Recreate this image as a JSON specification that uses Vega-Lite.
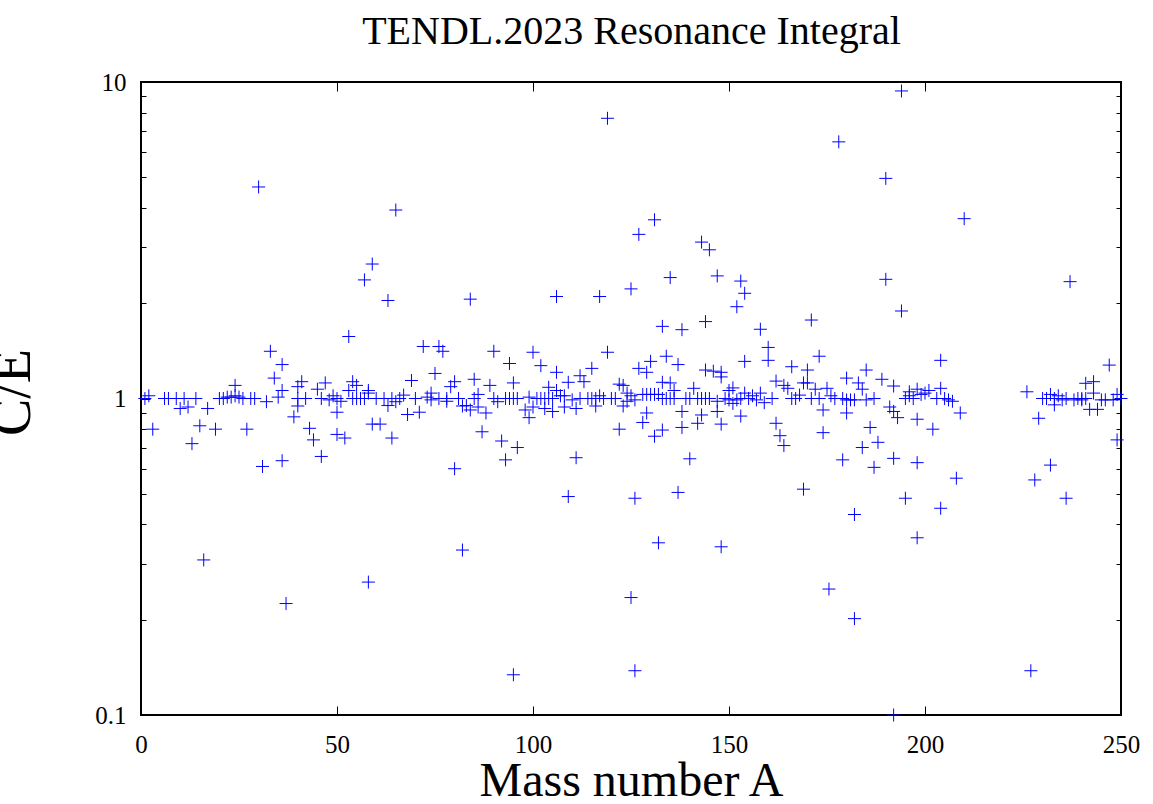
{
  "$schema": "https://vega.github.io/schema/vega-lite/v6.json",
  "width": 980,
  "height": 633,
  "autosize": {"type": "none"},
  "padding": {"left": 141, "top": 82, "right": 32, "bottom": 89},
  "background": "white",
  "config": {
    "view": {"stroke": "black", "strokeWidth": 2},
    "axis": {"domain": false, "grid": false, "labelFont": "Liberation Serif", "labelFontSize": 25, "labelColor": "black", "tickColor": "black", "tickWidth": 1, "titleFont": "Liberation Serif", "titleFontWeight": "normal", "titleColor": "black"}
  },
  "data": {"values": [
{"A":1,"CE":1.0},{"A":2,"CE":1.02},{"A":3,"CE":0.8},{"A":6,"CE":1.0},{"A":7,"CE":1.0},{"A":9,"CE":1.0},{"A":10,"CE":0.93},{"A":11,"CE":1.0},{"A":12,"CE":0.94},{"A":13,"CE":0.72},{"A":14,"CE":1.0},{"A":15,"CE":0.82},{"A":16,"CE":0.309},{"A":17,"CE":0.93},{"A":19,"CE":0.8},{"A":20,"CE":1.0},{"A":21,"CE":1.0},{"A":22,"CE":1.01},{"A":23,"CE":1.01},{"A":24,"CE":1.1},{"A":24,"CE":1.02},{"A":25,"CE":1.01},{"A":26,"CE":1.0},{"A":27,"CE":0.8},{"A":28,"CE":1.0},{"A":29,"CE":1.0},{"A":30,"CE":4.66},{"A":31,"CE":0.61},{"A":32,"CE":0.977},{"A":33,"CE":1.41},{"A":34,"CE":1.16},{"A":35,"CE":1.01},{"A":36,"CE":1.28},{"A":36,"CE":1.06},{"A":36,"CE":0.636},{"A":37,"CE":0.225},{"A":39,"CE":0.875},{"A":40,"CE":1.09},{"A":40,"CE":1.0},{"A":40,"CE":0.947},{"A":41,"CE":1.13},{"A":42,"CE":1.0},{"A":43,"CE":0.805},{"A":44,"CE":0.74},{"A":45,"CE":1.07},{"A":46,"CE":0.656},{"A":46,"CE":1.0},{"A":47,"CE":1.12},{"A":48,"CE":0.99},{"A":49,"CE":1.02},{"A":50,"CE":1.0},{"A":50,"CE":0.905},{"A":50,"CE":0.77},{"A":51,"CE":0.98},{"A":52,"CE":0.75},{"A":53,"CE":1.57},{"A":53,"CE":1.06},{"A":54,"CE":1.13},{"A":54,"CE":1.0},{"A":55,"CE":1.1},{"A":55,"CE":1.0},{"A":56,"CE":1.0},{"A":57,"CE":2.37},{"A":57,"CE":1.0},{"A":58,"CE":1.04},{"A":58,"CE":1.06},{"A":58,"CE":0.263},{"A":59,"CE":2.66},{"A":59,"CE":0.83},{"A":60,"CE":1.0},{"A":61,"CE":0.83},{"A":62,"CE":1.0},{"A":63,"CE":2.04},{"A":63,"CE":0.95},{"A":64,"CE":1.0},{"A":64,"CE":0.75},{"A":65,"CE":3.94},{"A":65,"CE":0.977},{"A":66,"CE":1.0},{"A":67,"CE":1.025},{"A":68,"CE":0.89},{"A":69,"CE":1.14},{"A":70,"CE":1.0},{"A":71,"CE":0.905},{"A":72,"CE":1.46},{"A":73,"CE":1.01},{"A":74,"CE":1.04},{"A":74,"CE":0.99},{"A":75,"CE":1.2},{"A":76,"CE":1.46},{"A":76,"CE":1.0},{"A":77,"CE":1.41},{"A":78,"CE":1.0},{"A":78,"CE":0.98},{"A":79,"CE":1.09},{"A":80,"CE":1.13},{"A":80,"CE":0.6},{"A":81,"CE":1.0},{"A":82,"CE":0.947},{"A":82,"CE":0.332},{"A":83,"CE":0.95},{"A":84,"CE":2.06},{"A":84,"CE":0.92},{"A":85,"CE":1.15},{"A":85,"CE":1.0},{"A":86,"CE":1.03},{"A":86,"CE":0.94},{"A":87,"CE":0.785},{"A":88,"CE":0.9},{"A":89,"CE":1.1},{"A":90,"CE":1.41},{"A":90,"CE":1.0},{"A":91,"CE":0.977},{"A":92,"CE":0.734},{"A":93,"CE":1.0},{"A":93,"CE":0.64},{"A":94,"CE":1.29},{"A":94,"CE":1.0},{"A":95,"CE":1.12},{"A":95,"CE":0.134},{"A":95,"CE":1.0},{"A":96,"CE":0.7},{"A":96,"CE":1.0},{"A":98,"CE":0.92},{"A":99,"CE":0.87},{"A":99,"CE":1.01},{"A":100,"CE":1.4},{"A":100,"CE":0.94},{"A":101,"CE":1.0},{"A":102,"CE":1.27},{"A":102,"CE":1.0},{"A":103,"CE":1.0},{"A":103,"CE":0.93},{"A":104,"CE":1.085},{"A":104,"CE":1.0},{"A":105,"CE":1.0},{"A":105,"CE":0.91},{"A":106,"CE":2.1},{"A":106,"CE":1.21},{"A":106,"CE":1.06},{"A":107,"CE":1.02},{"A":108,"CE":1.02},{"A":108,"CE":0.94},{"A":109,"CE":1.125},{"A":109,"CE":0.49},{"A":110,"CE":0.99},{"A":111,"CE":0.93},{"A":111,"CE":0.65},{"A":112,"CE":1.18},{"A":112,"CE":1.0},{"A":113,"CE":1.13},{"A":114,"CE":1.0},{"A":115,"CE":1.245},{"A":115,"CE":1.0},{"A":116,"CE":1.0},{"A":116,"CE":0.947},{"A":117,"CE":2.1},{"A":117,"CE":1.02},{"A":118,"CE":1.0},{"A":119,"CE":7.68},{"A":119,"CE":1.4},{"A":120,"CE":1.0},{"A":121,"CE":1.0},{"A":122,"CE":0.8},{"A":122,"CE":1.11},{"A":123,"CE":1.1},{"A":123,"CE":0.947},{"A":124,"CE":1.04},{"A":124,"CE":0.98},{"A":125,"CE":1.02},{"A":125,"CE":2.22},{"A":125,"CE":0.235},{"A":126,"CE":0.99},{"A":126,"CE":0.138},{"A":126,"CE":0.484},{"A":127,"CE":3.3},{"A":127,"CE":1.245},{"A":128,"CE":1.03},{"A":128,"CE":0.84},{"A":129,"CE":1.21},{"A":129,"CE":1.03},{"A":129,"CE":0.9},{"A":130,"CE":1.31},{"A":130,"CE":1.03},{"A":131,"CE":3.67},{"A":131,"CE":1.03},{"A":131,"CE":0.76},{"A":132,"CE":1.03},{"A":132,"CE":0.35},{"A":133,"CE":1.69},{"A":133,"CE":0.795},{"A":133,"CE":1.125},{"A":133,"CE":1.0},{"A":134,"CE":1.36},{"A":134,"CE":1.0},{"A":135,"CE":2.41},{"A":135,"CE":1.12},{"A":135,"CE":1.0},{"A":136,"CE":1.06},{"A":136,"CE":1.0},{"A":137,"CE":1.28},{"A":137,"CE":0.505},{"A":138,"CE":1.65},{"A":138,"CE":0.91},{"A":138,"CE":0.81},{"A":139,"CE":1.0},{"A":140,"CE":0.645},{"A":140,"CE":1.0},{"A":141,"CE":1.077},{"A":142,"CE":1.0},{"A":142,"CE":0.835},{"A":143,"CE":3.12},{"A":143,"CE":0.887},{"A":143,"CE":1.0},{"A":144,"CE":1.75},{"A":144,"CE":1.23},{"A":144,"CE":1.0},{"A":145,"CE":2.95},{"A":145,"CE":1.0},{"A":146,"CE":1.22},{"A":147,"CE":2.44},{"A":147,"CE":0.98},{"A":147,"CE":0.91},{"A":148,"CE":1.21},{"A":148,"CE":1.17},{"A":148,"CE":0.83},{"A":148,"CE":0.34},{"A":149,"CE":1.0},{"A":150,"CE":0.99},{"A":150,"CE":1.06},{"A":151,"CE":1.08},{"A":151,"CE":0.965},{"A":152,"CE":1.95},{"A":152,"CE":0.99},{"A":153,"CE":2.35},{"A":153,"CE":1.0},{"A":153,"CE":0.88},{"A":154,"CE":2.15},{"A":154,"CE":1.31},{"A":154,"CE":1.04},{"A":155,"CE":1.0},{"A":156,"CE":1.02},{"A":157,"CE":0.99},{"A":158,"CE":1.655},{"A":158,"CE":1.04},{"A":159,"CE":0.97},{"A":160,"CE":1.45},{"A":160,"CE":1.32},{"A":161,"CE":1.0},{"A":162,"CE":1.135},{"A":162,"CE":0.835},{"A":163,"CE":0.763},{"A":164,"CE":0.71},{"A":164,"CE":1.1},{"A":165,"CE":1.077},{"A":166,"CE":1.26},{"A":166,"CE":1.0},{"A":167,"CE":1.0},{"A":168,"CE":1.025},{"A":169,"CE":1.12},{"A":169,"CE":0.517},{"A":170,"CE":1.23},{"A":170,"CE":1.12},{"A":171,"CE":1.0},{"A":171,"CE":1.77},{"A":172,"CE":1.07},{"A":173,"CE":1.36},{"A":173,"CE":1.0},{"A":174,"CE":0.92},{"A":174,"CE":0.78},{"A":175,"CE":1.077},{"A":175.5,"CE":0.25},{"A":176,"CE":1.02},{"A":177,"CE":1.0},{"A":178,"CE":6.47},{"A":179,"CE":1.0},{"A":179,"CE":0.64},{"A":180,"CE":1.16},{"A":180,"CE":0.9},{"A":180,"CE":0.99},{"A":181,"CE":0.99},{"A":182,"CE":0.99},{"A":182,"CE":0.2016},{"A":182,"CE":0.43},{"A":183,"CE":1.12},{"A":184,"CE":1.07},{"A":184,"CE":0.7},{"A":185,"CE":1.23},{"A":185,"CE":0.99},{"A":186,"CE":0.81},{"A":187,"CE":1.0},{"A":187,"CE":0.606},{"A":188,"CE":0.727},{"A":189,"CE":1.15},{"A":190,"CE":4.96},{"A":190,"CE":2.38},{"A":191,"CE":0.94},{"A":192,"CE":1.095},{"A":192,"CE":0.91},{"A":192,"CE":0.647},{"A":192,"CE":0.1},{"A":193,"CE":0.87},{"A":194,"CE":9.37},{"A":194,"CE":1.89},{"A":195,"CE":1.0},{"A":195,"CE":0.484},{"A":196,"CE":1.02},{"A":196,"CE":1.05},{"A":197,"CE":1.0},{"A":198,"CE":1.07},{"A":198,"CE":0.86},{"A":198,"CE":0.627},{"A":198,"CE":0.363},{"A":199,"CE":1.03},{"A":200,"CE":1.04},{"A":201,"CE":1.06},{"A":202,"CE":0.8},{"A":203,"CE":1.0},{"A":204,"CE":1.32},{"A":204,"CE":1.077},{"A":204,"CE":0.45},{"A":205,"CE":1.0},{"A":206,"CE":0.99},{"A":207,"CE":0.98},{"A":208,"CE":0.56},{"A":209,"CE":0.9},{"A":210,"CE":3.7},{"A":226,"CE":1.05},{"A":227,"CE":0.138},{"A":228,"CE":0.553},{"A":229,"CE":0.866},{"A":230,"CE":1.0},{"A":231,"CE":1.0},{"A":232,"CE":1.03},{"A":232,"CE":0.616},{"A":233,"CE":1.0},{"A":233,"CE":0.955},{"A":234,"CE":1.02},{"A":235,"CE":0.99},{"A":236,"CE":0.484},{"A":236,"CE":1.0},{"A":237,"CE":2.34},{"A":238,"CE":0.99},{"A":239,"CE":1.0},{"A":240,"CE":0.99},{"A":240,"CE":1.0},{"A":241,"CE":1.117},{"A":241,"CE":1.0},{"A":242,"CE":0.924},{"A":243,"CE":1.13},{"A":243,"CE":1.04},{"A":244,"CE":0.924},{"A":245,"CE":0.99},{"A":246,"CE":0.99},{"A":247,"CE":1.275},{"A":248,"CE":0.99},{"A":249,"CE":1.03},{"A":249,"CE":0.74},{"A":250,"CE":1.0}
  ]},
  "layer": [
    {
      "mark": {"type": "point", "shape": "M-1,0L1,0M0,-1L0,1", "size": 169, "filled": false, "color": "#0000ff", "strokeWidth": 1, "opacity": 1, "clip": false},
      "encoding": {
        "x": {"field": "A", "type": "quantitative", "scale": {"domain": [0, 250], "nice": false, "zero": false},
              "axis": {"orient": "bottom", "values": [0, 50, 100, 150, 200, 250], "tickSize": -9, "labelPadding": 26, "labelFlush": false, "labelOverlap": false,
                       "title": "Mass number A", "titleFontSize": 48, "titleX": 490, "titleY": 80, "titleBaseline": "alphabetic", "titleAlign": "center", "titleAnchor": null}},
        "y": {"field": "CE", "type": "quantitative", "scale": {"type": "log", "domain": [0.1, 10], "nice": false},
              "axis": {"orient": "left", "values": [0.1, 1, 10], "format": "~g", "tickSize": -9, "labelPadding": 24, "labelBaseline": "middle",
                       "title": "C/E", "titleFontSize": 56, "titleAngle": 270, "titleX": -112, "titleY": 310, "titleBaseline": "alphabetic", "titleAlign": "center", "titleAnchor": null}}
      }
    },
    {
      "mark": {"type": "point", "opacity": 0},
      "encoding": {
        "x": {"field": "A", "type": "quantitative", "scale": {"domain": [0, 250], "nice": false, "zero": false},
              "axis": {"orient": "top", "values": [50, 100, 150, 200], "tickSize": -9, "labels": false,
                       "title": "TENDL.2023 Resonance Integral", "titleFontSize": 40, "titleX": 490, "titleY": -39, "titleBaseline": "alphabetic", "titleAlign": "center", "titleAnchor": null}},
        "y": {"field": "CE", "type": "quantitative", "scale": {"type": "log", "domain": [0.1, 10], "nice": false},
              "axis": {"orient": "right", "values": [0.1, 1, 10], "tickSize": -9, "labels": false, "title": null}}
      }
    },
    {
      "mark": {"type": "point", "opacity": 0},
      "encoding": {
        "x": {"field": "A", "type": "quantitative", "scale": {"domain": [0, 250], "nice": false, "zero": false}, "axis": null},
        "y": {"field": "CE", "type": "quantitative", "scale": {"type": "log", "domain": [0.1, 10], "nice": false},
              "axis": {"orient": "left", "values": [0.2, 0.3, 0.4, 0.5, 0.6, 0.7, 0.8, 0.9, 2, 3, 4, 5, 6, 7, 8, 9], "tickSize": -5, "labels": false, "title": null}}
      }
    },
    {
      "mark": {"type": "point", "opacity": 0},
      "encoding": {
        "x": {"field": "A", "type": "quantitative", "scale": {"domain": [0, 250], "nice": false, "zero": false}, "axis": null},
        "y": {"field": "CE", "type": "quantitative", "scale": {"type": "log", "domain": [0.1, 10], "nice": false},
              "axis": {"orient": "right", "values": [0.2, 0.3, 0.4, 0.5, 0.6, 0.7, 0.8, 0.9, 2, 3, 4, 5, 6, 7, 8, 9], "tickSize": -5, "labels": false, "title": null}}
      }
    }
  ],
  "resolve": {"axis": {"x": "independent", "y": "independent"}}
}
